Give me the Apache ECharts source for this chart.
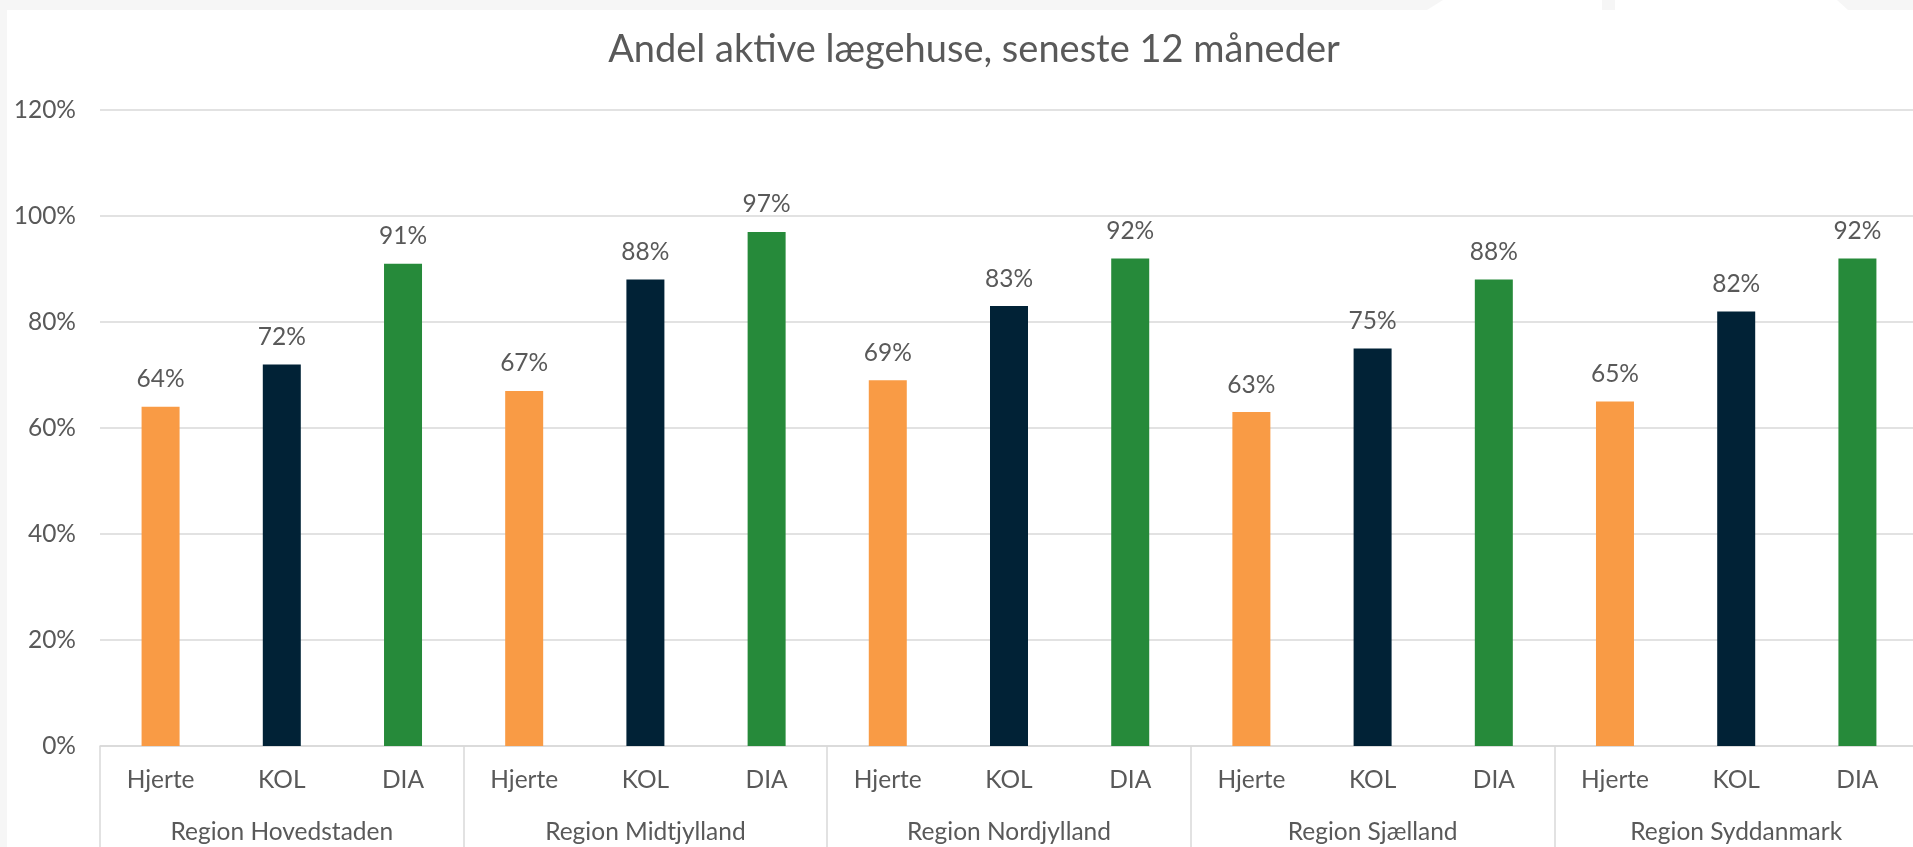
<!DOCTYPE html>
<html>
<head>
<meta charset="utf-8">
<script src="https://cdn.jsdelivr.net/npm/echarts@6/dist/echarts.min.js"></script>
<style>
  html, body { margin: 0; padding: 0; overflow: hidden; background: #f6f6f6; }
  #chart { position: absolute; left: 7px; top: 10px; width: 1911px; height: 837px; background: #fff; }
  /* white tabs at the top edge of the screenshot */
  #tab { position: absolute; left: 1427px; top: 0; width: 421px; height: 10px; background: #fff;
         clip-path: polygon(16px 0, 410px 0, 421px 10px, 0 10px); }
  #notch { position: absolute; left: 1602px; top: 0; width: 13px; height: 10px; background: #f6f6f6; }
</style>
</head>
<body>
<div id="tab"></div>
<div id="notch"></div>
<div id="chart"></div>
<script>
// regioner (ydre kategori) og sygdomme (indre kategori)
const regions = ['Region Hovedstaden', 'Region Midtjylland', 'Region Nordjylland', 'Region Sjælland', 'Region Syddanmark'];
const diseases = ['Hjerte', 'KOL', 'DIA'];

// andel aktive lægehuse i procent
const hjerte = [64, 67, 69, 63, 65];
const kol = [72, 88, 83, 75, 82];
const dia = [91, 97, 92, 88, 92];

const yTicks = { min: 0, max: 120, interval: 20 };

const colors = ['#f99b45', '#012236', '#268a3a'];
const textColor = '#595959';
const lineColor = '#d9d9d9';
const font = 'Lato';
const fontSize = 24.5;

// indre labels: Hjerte/KOL/DIA gentaget for hver region
const innerLabels = [];
regions.forEach(() => diseases.forEach(d => innerLabels.push(d)));

const chart = echarts.init(document.getElementById('chart'));

const makeSeries = (name, values, i) => ({
  name: name,
  type: 'bar',
  xAxisIndex: 1,
  data: values,
  barWidth: 38,
  barGap: '219%',
  itemStyle: { color: colors[i] },
  label: {
    show: true,
    position: 'top',
    distance: 15,
    formatter: '{c}%',
    color: textColor,
    fontFamily: font,
    fontSize: fontSize
  },
  silent: true
});

chart.setOption({
  animation: false,
  backgroundColor: '#fff',
  title: {
    text: 'Andel aktive lægehuse, seneste 12 måneder',
    left: 967,
    top: 21,
    padding: 0,
    textAlign: 'center',
    textStyle: { color: textColor, fontFamily: font, fontSize: 38, fontWeight: 'normal' }
  },
  grid: { left: 93, right: 0, top: 100, bottom: 101 },
  yAxis: {
    type: 'value',
    min: yTicks.min,
    max: yTicks.max,
    interval: yTicks.interval,
    axisLine: { show: false },
    axisTick: { show: false },
    axisLabel: { formatter: '{value}%', color: textColor, fontFamily: font, fontSize: fontSize, margin: 24 },
    splitLine: { lineStyle: { color: lineColor, width: 1.5 } }
  },
  xAxis: [
    {
      type: 'category',
      data: innerLabels,
      position: 'bottom',
      axisLine: { lineStyle: { color: lineColor, width: 1.5 } },
      axisTick: { show: false },
      axisLabel: { interval: 0, color: textColor, fontFamily: font, fontSize: fontSize, margin: 22 }
    },
    {
      type: 'category',
      data: regions,
      position: 'bottom',
      axisLine: { show: false },
      axisTick: { show: true, interval: 0, length: 101, lineStyle: { color: lineColor, width: 1.5 } },
      axisLabel: { interval: 0, color: textColor, fontFamily: font, fontSize: fontSize, margin: 74 }
    }
  ],
  series: [
    makeSeries('Hjerte', hjerte, 0),
    makeSeries('KOL', kol, 1),
    makeSeries('DIA', dia, 2)
  ]
});
</script>
</body>
</html>
